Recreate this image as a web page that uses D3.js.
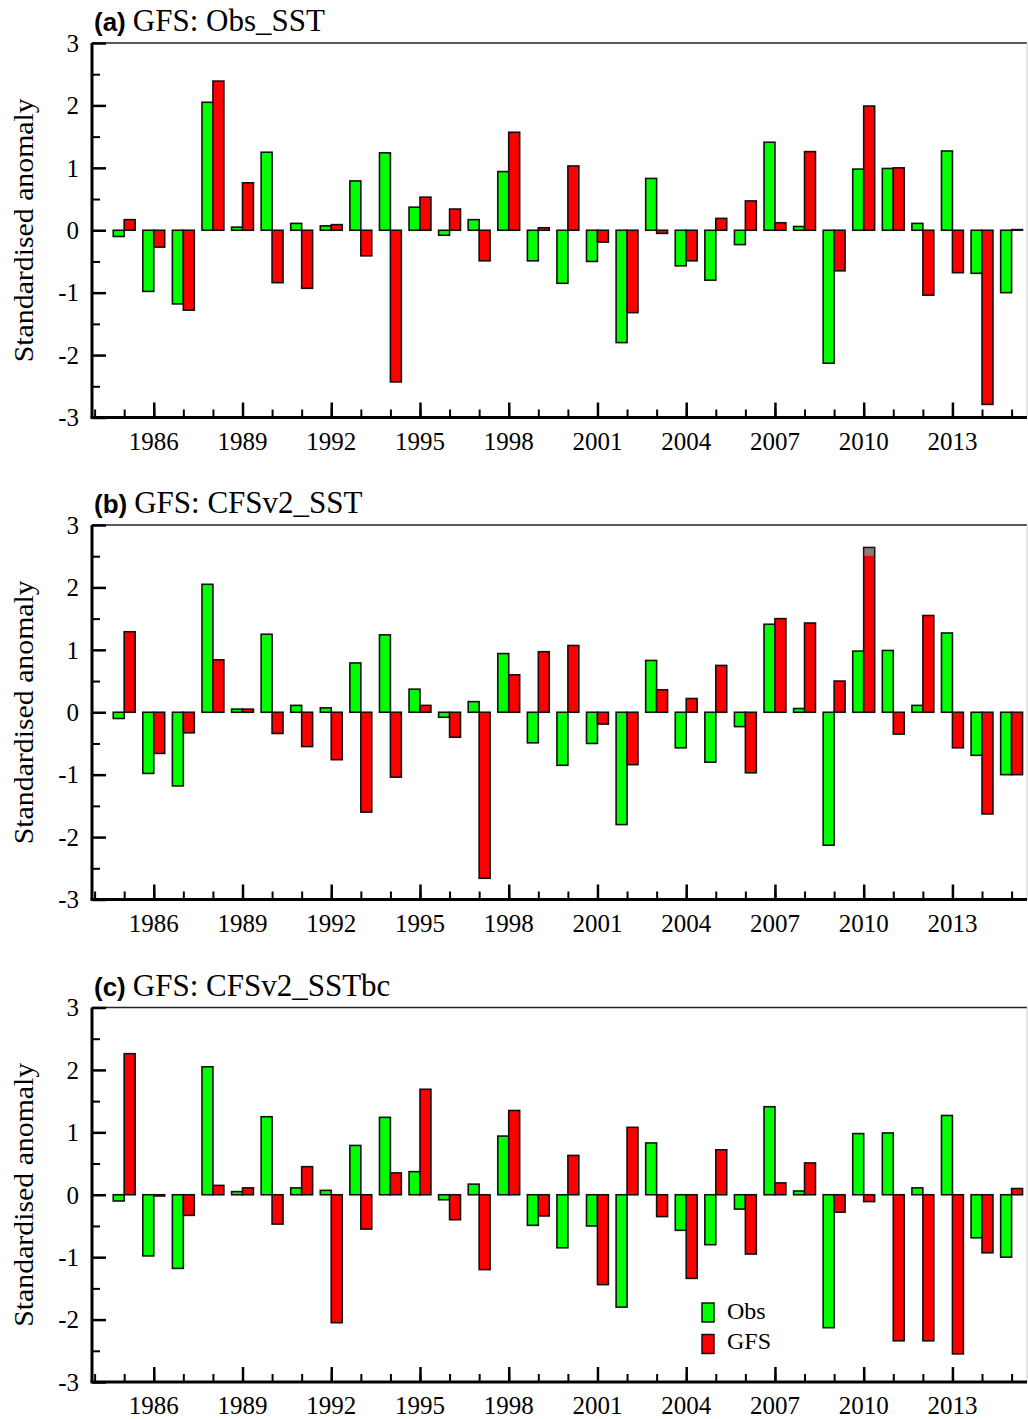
<!DOCTYPE html>
<html><head><meta charset="utf-8">
<script src="https://cdn.jsdelivr.net/npm/d3@7"></script>
<style>body{margin:0;background:#fff}svg{display:block}</style>
</head><body><svg id="chart" width="1028" height="1419"></svg>
<script>
const years = d3.range(1985, 2016);
const obs = [-0.10,-0.98,-1.18,2.05,0.05,1.25,0.11,0.07,0.79,1.24,0.37,-0.08,0.17,0.94,
  -0.49,-0.85,-0.50,-1.80,0.83,-0.57,-0.80,-0.23,1.41,0.06,-2.13,0.98,0.99,0.11,1.27,-0.69,-1.00];
const gfsObsSST = [0.17,-0.27,-1.28,2.39,0.76,-0.84,-0.93,0.09,-0.41,-2.43,0.53,0.34,-0.49,1.57,
  0.04,1.03,-0.19,-1.32,-0.05,-0.49,0.19,0.47,0.12,1.26,-0.65,1.99,1.00,-1.04,-0.68,-2.79,0.01];
const gfsCFSv2SST = [1.29,-0.66,-0.33,0.84,0.05,-0.34,-0.55,-0.76,-1.60,-1.04,0.11,-0.40,-2.66,0.60,
  0.97,1.07,-0.19,-0.84,0.36,0.22,0.75,-0.97,1.50,1.43,0.50,2.64,-0.35,1.55,-0.57,-1.63,-1.00];
const gfsCFSv2SSTbc = [2.26,-0.02,-0.33,0.15,0.11,-0.47,0.45,-2.05,-0.55,0.35,1.69,-0.40,-1.20,1.35,
  -0.34,0.63,-1.44,1.08,-0.35,-1.34,0.72,-0.95,0.19,0.51,-0.28,-0.11,-2.34,-2.34,-2.55,-0.93,0.10];
const panelTags = ["(a)", "(b)", "(c)"];
const panelNames = ["GFS: Obs_SST", "GFS: CFSv2_SST", "GFS: CFSv2_SSTbc"];
const greyCaps = [{panel: 1, year: 2010, lo: 2.52, hi: 2.64}];
const yTicks = [-3,-2,-1,0,1,2,3];
const yMinorTicks = [-2.5,-1.5,-0.5,0.5,1.5,2.5];
const xLabelYears = [1986,1989,1992,1995,1998,2001,2004,2007,2010,2013];
const xMinorYears = d3.range(1984, 2016);
const legendLabels = ["Obs", "GFS"];
const colors = {obs: "#00ff00", gfs: "#ff0000"};

const gfsSeries = [gfsObsSST, gfsCFSv2SST, gfsCFSv2SSTbc];
const svg = d3.select("#chart");
const serif = "'Liberation Serif', 'Times New Roman', serif";
const left = 92, right = 1027;
const x = d3.scaleLinear().domain([1984, 2015]).range([94.6, 1011.6]);
const bw = x(1984.37) - x(1984);
const tops = [43, 525, 1007.5];
const ph = 374.5;

tops.forEach((top, p) => {
  const y = d3.scaleLinear().domain([-3, 3]).range([top + ph, top]);
  const g = svg.append("g");
  // title
  const t = g.append("text").attr("x", 94).attr("y", top - 12);
  t.append("tspan").attr("font-family", "'Liberation Sans', Arial, sans-serif")
    .attr("font-weight", "bold").attr("font-size", 26).text(panelTags[p]);
  t.append("tspan").attr("font-family", serif).attr("font-size", 31).attr("dx", 7).text(panelNames[p]);
  // bars
  const gfs = gfsSeries[p];
  const data = years.map((yr, i) => ({yr, o: obs[i], g: gfs[i]}));
  g.selectAll(".ob").data(data).join("rect")
    .attr("x", d => x(d.yr) - bw).attr("width", bw)
    .attr("y", d => y(Math.max(0, d.o))).attr("height", d => Math.abs(y(d.o) - y(0)))
    .attr("fill", colors.obs).attr("stroke", "#111").attr("stroke-width", 1.6);
  g.selectAll(".gf").data(data).join("rect")
    .attr("x", d => x(d.yr)).attr("width", bw)
    .attr("y", d => y(Math.max(0, d.g))).attr("height", d => Math.abs(y(d.g) - y(0)))
    .attr("fill", colors.gfs).attr("stroke", "#111").attr("stroke-width", 1.6);
  greyCaps.filter(c => c.panel === p).forEach(c => {
    g.append("rect").attr("x", x(c.year) + 0.8).attr("width", bw - 1.6)
      .attr("y", y(c.hi) + 0.8).attr("height", y(c.lo) - y(c.hi))
      .attr("fill", "#808080");
  });
  // frame top/right
  g.append("line").attr("x1", left).attr("x2", right).attr("y1", top).attr("y2", top)
    .attr("stroke", "#222").attr("stroke-width", 1.5);
  g.append("line").attr("x1", right).attr("x2", right).attr("y1", top).attr("y2", top + ph)
    .attr("stroke", "#ccc").attr("stroke-width", 1);
  // y axis
  const ya = g.append("g").attr("transform", `translate(${left},0)`)
    .call(d3.axisRight(y).tickValues(yTicks).tickSize(14).tickFormat(""));
  ya.select(".domain").remove();
  ya.selectAll("line").attr("stroke", "#000").attr("stroke-width", 2.5);
  const ym = g.append("g").attr("transform", `translate(${left},0)`)
    .call(d3.axisRight(y).tickValues(yMinorTicks).tickSize(8).tickFormat(""));
  ym.select(".domain").remove();
  ym.selectAll("line").attr("stroke", "#000").attr("stroke-width", 2);
  g.selectAll(".yl").data(yTicks).join("text")
    .attr("x", 79).attr("y", d => y(d)).attr("dy", "0.35em")
    .attr("text-anchor", "end").attr("font-family", serif).attr("font-size", 25)
    .text(d => String(d));
  g.append("line").attr("x1", left).attr("x2", left).attr("y1", top).attr("y2", top + ph)
    .attr("stroke", "#000").attr("stroke-width", 3);
  // x axis
  const xm = g.append("g").attr("transform", `translate(0,${top + ph})`)
    .call(d3.axisTop(x).tickValues(xMinorYears).tickSize(8).tickFormat(""));
  xm.select(".domain").remove();
  xm.selectAll("line").attr("stroke", "#000").attr("stroke-width", 2);
  const xa = g.append("g").attr("transform", `translate(0,${top + ph})`)
    .call(d3.axisTop(x).tickValues(xLabelYears).tickSize(15).tickFormat(""));
  xa.select(".domain").remove();
  xa.selectAll("line").attr("stroke", "#000").attr("stroke-width", 2.5);
  g.selectAll(".xl").data(xLabelYears).join("text")
    .attr("x", d => x(d)).attr("y", top + ph + 32)
    .attr("text-anchor", "middle").attr("font-family", serif).attr("font-size", 25)
    .text(d => d);
  g.append("line").attr("x1", left - 1.5).attr("x2", right).attr("y1", top + ph).attr("y2", top + ph)
    .attr("stroke", "#000").attr("stroke-width", 3);
  // y label
  g.append("text").attr("transform", `translate(33,${top + ph / 2}) rotate(-90)`)
    .attr("text-anchor", "middle").attr("font-family", serif).attr("font-size", 28)
    .attr("textLength", 264).attr("lengthAdjust", "spacingAndGlyphs")
    .text("Standardised anomaly");
  // legend
  if (p === 2) {
    const lg = svg.append("g");
    [colors.obs, colors.gfs].forEach((c, i) => {
      lg.append("rect").attr("x", 702).attr("y", 1303 + i * 31.5).attr("width", 12).attr("height", 19)
        .attr("fill", c).attr("stroke", "#111").attr("stroke-width", 1.5);
      lg.append("text").attr("x", 727).attr("y", 1319 + i * 30)
        .attr("font-family", serif).attr("font-size", 24).text(legendLabels[i]);
    });
  }
});
</script></body></html>
